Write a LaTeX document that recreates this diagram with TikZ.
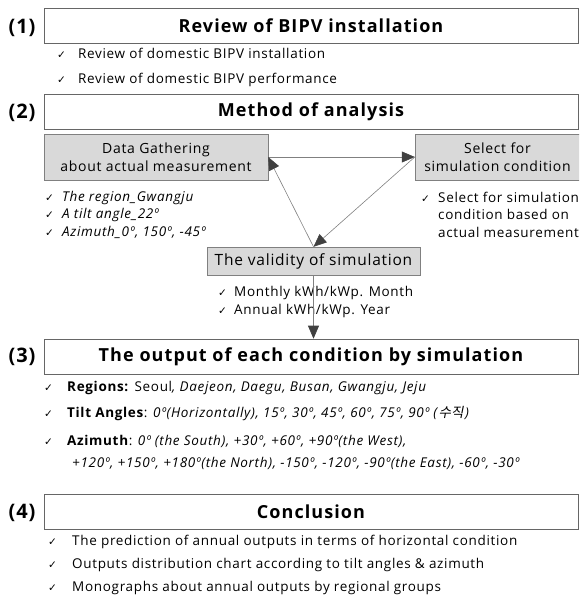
\documentclass[tikz,border=0pt]{standalone}
\usepackage{fontspec}
\setmainfont{Open Sans}[LetterSpace=5]
\newfontfamily\krfont[FakeSlant=0.2]{Noto Sans CJK KR}
\newfontfamily\symfont{DejaVu Sans}
\usetikzlibrary{arrows.meta}
\newcommand{\ok}[1][21pt]{\makebox[#1][l]{\symfont\fontsize{10.5}{10}\selectfont ✓}}
\newcommand{\dg}{º}

\begin{document}
\begin{tikzpicture}[x=1pt,y=-1pt,
  head/.style={draw=black!60,line width=0.6pt,minimum width=534pt,minimum height=35pt,inner sep=0pt,font=\bfseries\fontsize{18}{20}\selectfont\addfontfeatures{LetterSpace=6}},
  num/.style={inner sep=0pt,font=\bfseries\fontsize{20}{22}\selectfont},
  graybox/.style={draw=black!50,fill=black!15,inner sep=0pt,align=center,font=\fontsize{14}{17.5}\selectfont},
  item/.style={anchor=west,inner sep=0pt,align=left,font=\fontsize{13.5}{17.5}\selectfont},
  link/.style={draw=black!50,line width=0.6pt,-{Triangle[length=13pt,width=11pt,color=black!75]}}]
\clip (0,0) rectangle (579,600);
\node[num] (n1) at (22,28) {(1)};
\node[head] (t1) at (311,25.5) {Review of BIPV installation};
\node[item] (a1) at (57,53) {\ok Review of domestic BIPV installation};
\node[item] (a2) at (57,80) {\ok Review of domestic BIPV performance};
\node[num] (n2) at (22,113) {(2)};
\node[head] (t2) at (311,111.5) {Method of analysis};
\node[graybox,minimum width=224pt,minimum height=46pt] (gather) at (156,157) {Data Gathering\\about actual measurement};
\node[graybox,minimum width=165pt,minimum height=46pt] (select) at (497.5,157) {Select for\\simulation condition};
\node[graybox,minimum width=213pt,minimum height=28pt,font=\fontsize{15.5}{18}\selectfont] (valid) at (313.5,261) {The validity of simulation};
\node[item,font=\itshape\fontsize{13.5}{17.5}\selectfont] (b1) at (45,214.5) {\ok[17pt]The region\_Gwangju\\\ok[17pt]A tilt angle\_22\dg\\\ok[17pt]Azimuth\_0\dg, 150\dg, -45\dg};
\node[item] (c1) at (421,214.5) {\ok[17pt]Select for simulation\\\hspace*{17pt}condition based on\\\hspace*{17pt}actual measurement};
\node[item,font=\fontsize{13.5}{18}\selectfont] (d1) at (218,302) {\ok[16pt]Monthly kWh/kWp. Month\\\ok[16pt]Annual kWh/kWp. Year};
\draw[link] (gather.east) -- (select.west);
\draw[link] (select.west) -- (valid.north);
\draw[link] (valid.north) -- (gather.east);
\node[num] (n3) at (22,357) {(3)};
\node[head] (t3) at (311,356.5) {The output of each condition by simulation};
\draw[link] (valid.south) -- (valid.south |- t3.north);
\node[item] (e1) at (44,388) {\ok[23pt]\textbf{Regions:} Seoul\textit{, Daejeon, Daegu, Busan, Gwangju, Jeju}};
\node[item] (e2) at (44,414) {\ok[23pt]\textbf{Tilt Angles}: \textit{0\dg(Horizontally), 15\dg, 30\dg, 45\dg, 60\dg, 75\dg, 90\dg\ (\kern1.5pt}{\krfont 수직}\textit{\kern1.5pt)}};
\node[item] (e3) at (44,441) {\ok[23pt]\textbf{Azimuth}: \textit{0\dg\ (the South), +30\dg, +60\dg, +90\dg(the West),}};
\node[item] (e4) at (72,463) {\textit{+120\dg, +150\dg, +180\dg(the North), -150\dg, -120\dg, -90\dg(the East), -60\dg, -30\dg}};
\node[num] (n4) at (22,513) {(4)};
\node[head] (t4) at (311,512) {Conclusion};
\node[item] (f1) at (48,542) {\ok[24pt]The prediction of annual outputs in terms of horizontal condition};
\node[item] (f2) at (48,565) {\ok[24pt]Outputs distribution chart according to tilt angles \& azimuth};
\node[item] (f3) at (48,588) {\ok[24pt]Monographs about annual outputs by regional groups};
\end{tikzpicture}
\end{document}
